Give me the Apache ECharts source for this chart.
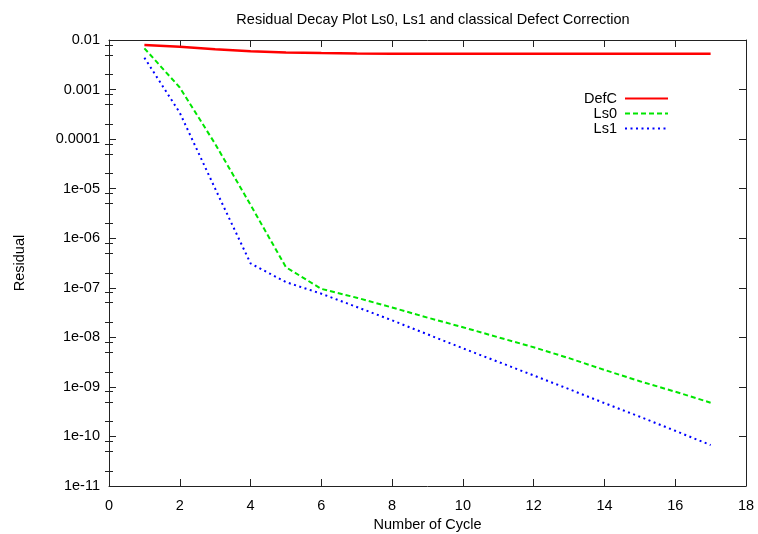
<!DOCTYPE html>
<html>
<head>
<meta charset="utf-8">
<script src="https://cdn.jsdelivr.net/npm/echarts@6/dist/echarts.min.js"></script>
<style>
  html, body { margin: 0; padding: 0; background: #ffffff; }
  #chart { width: 758px; height: 534px; }
</style>
</head>
<body>
<div id="chart"></div>
<script>
// Multigrid cycle number
const cycles = [1, 2, 3, 4, 5, 6, 7, 8, 9, 10, 11, 12, 13, 14, 15, 16, 17];

// Residual after each cycle
const defC = [7.9e-3, 7.3e-3, 6.5e-3, 5.9e-3, 5.6e-3, 5.45e-3, 5.35e-3, 5.3e-3, 5.28e-3,
              5.27e-3, 5.26e-3, 5.26e-3, 5.25e-3, 5.25e-3, 5.25e-3, 5.25e-3, 5.25e-3];
const ls0 = [6.8e-3, 1.1e-3, 8.0e-5, 4.7e-6, 2.6e-7, 9.5e-8, 6.3e-8, 4.0e-8, 2.5e-8,
             1.6e-8, 1.0e-8, 6.3e-9, 3.8e-9, 2.2e-9, 1.3e-9, 8.0e-10, 4.8e-10];
const ls1 = [4.4e-3, 3.4e-4, 1.0e-5, 3.1e-7, 1.3e-7, 7.6e-8, 4.1e-8, 2.2e-8, 1.15e-8,
             6.0e-9, 3.2e-9, 1.7e-9, 9.0e-10, 4.7e-10, 2.5e-10, 1.3e-10, 6.7e-11];

// Axis ticks
const xTicks = [0, 2, 4, 6, 8, 10, 12, 14, 16, 18];
const yTickLabels = ['1e-11', '1e-10', '1e-09', '1e-08', '1e-07', '1e-06', '1e-05',
                     '0.0001', '0.001', '0.01'];
const yMinExp = -11;
const yMaxExp = -2;
const minorMantissas = [2, 5, 8];

const seriesNames = ['DefC', 'Ls0', 'Ls1'];
const seriesColors = ['#ff0000', '#00e600', '#0000ff'];

const FONT = '"Liberation Sans", Arial, Helvetica, sans-serif';
const FS = 14.5;
const INK = '#222222';

const pairs = vals => cycles.map((c, i) => [c, vals[i]]);

// minor tick positions in log10 space for the overlay axes
const minorLogTicks = [];
for (let e = yMinExp; e < yMaxExp; e++) {
  minorMantissas.forEach(m => minorLogTicks.push(e + Math.log10(m)));
}

const chart = echarts.init(document.getElementById('chart'), null, { renderer: 'canvas' });

const baseTick = (len, show) => ({ show: show, inside: true, length: len, lineStyle: { color: INK, width: 1 } });

chart.setOption({
  animation: false,
  backgroundColor: '#ffffff',
  title: {
    text: 'Residual Decay Plot Ls0, Ls1 and classical Defect Correction',
    left: 428, textAlign: 'center', top: 7,
    textStyle: { fontFamily: FONT, fontSize: FS, fontWeight: 'normal', color: '#000' }
  },
  legend: {
    orient: 'vertical',
    right: 84, top: 86,
    align: 'right',
    itemWidth: 43, itemHeight: 10, itemGap: 0,
    data: seriesNames,
    itemStyle: { opacity: 0 },
    textStyle: { fontFamily: FONT, fontSize: FS, lineHeight: 14, color: '#000', width: 46, align: 'right', padding: [0, 3, 0, 0] }
  },
  grid: { left: 109, right: 12, top: 40, bottom: 48, containLabel: false, outerBoundsMode: 'none' },
  xAxis: [
    {
      type: 'value', position: 'bottom', min: xTicks[0], max: xTicks[xTicks.length - 1], interval: 2,
      name: 'Number of Cycle', nameLocation: 'middle', nameGap: 31,
      nameTextStyle: { fontFamily: FONT, fontSize: FS, color: '#000' },
      axisLine: { show: true, onZero: false, lineStyle: { color: INK, width: 1 } },
      axisTick: baseTick(7, true),
      axisLabel: { fontFamily: FONT, fontSize: FS, color: '#000', margin: 12 },
      splitLine: { show: false }
    },
    {
      type: 'value', position: 'top', min: xTicks[0], max: xTicks[xTicks.length - 1], interval: 2,
      axisLine: { show: true, onZero: false, lineStyle: { color: INK, width: 1 } },
      axisTick: baseTick(7, true),
      axisLabel: { show: false },
      splitLine: { show: false }
    }
  ],
  yAxis: [
    {
      type: 'log', logBase: 10, position: 'left',
      min: Math.pow(10, yMinExp), max: Math.pow(10, yMaxExp), interval: 1,
      name: 'Residual', nameLocation: 'middle', nameGap: 82,
      nameTextStyle: { fontFamily: FONT, fontSize: FS, color: '#000' },
      axisLine: { show: true, onZero: false, lineStyle: { color: INK, width: 1 } },
      axisTick: baseTick(7, true),
      axisLabel: {
        fontFamily: FONT, fontSize: FS, color: '#000', margin: 9,
        formatter: v => yTickLabels[Math.round(Math.log10(v)) - yMinExp]
      },
      splitLine: { show: false }
    },
    {
      type: 'log', logBase: 10, position: 'right',
      min: Math.pow(10, yMinExp), max: Math.pow(10, yMaxExp), interval: 1,
      axisLine: { show: true, onZero: false, lineStyle: { color: INK, width: 1 } },
      axisTick: baseTick(7, true),
      axisLabel: { show: false },
      splitLine: { show: false }
    },
    {
      type: 'value', position: 'left', min: yMinExp, max: yMaxExp,
      axisLine: { show: false },
      axisTick: Object.assign(baseTick(4, true), { customValues: minorLogTicks }),
      axisLabel: { show: false },
      splitLine: { show: false }
    },
    {
      type: 'value', position: 'right', min: yMinExp, max: yMaxExp,
      axisLine: { show: false },
      axisTick: Object.assign(baseTick(4, true), { customValues: minorLogTicks }),
      axisLabel: { show: false },
      splitLine: { show: false }
    }
  ],
  series: [
    {
      name: seriesNames[0], type: 'line', data: pairs(defC), showSymbol: false, symbol: 'none',
      color: seriesColors[0], lineStyle: { color: seriesColors[0], width: 2.5, type: 'solid' }
    },
    {
      name: seriesNames[1], type: 'line', data: pairs(ls0), showSymbol: false, symbol: 'none',
      color: seriesColors[1], lineStyle: { color: seriesColors[1], width: 2, type: [5, 3] }
    },
    {
      name: seriesNames[2], type: 'line', data: pairs(ls1), showSymbol: false, symbol: 'none',
      color: seriesColors[2], lineStyle: { color: seriesColors[2], width: 2, type: [2, 3.5] }
    }
  ]
});
</script>
</body>
</html>
